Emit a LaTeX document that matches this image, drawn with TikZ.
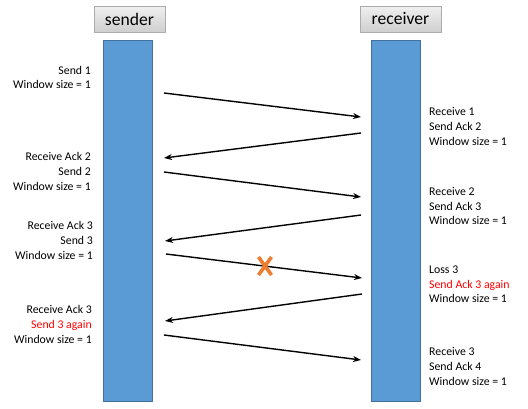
\documentclass[tikz,border=0pt]{standalone}
\usepackage{fontspec}
\setmainfont{Carlito}
\usepackage{tikz}
\usetikzlibrary{arrows.meta}
\definecolor{barblue}{HTML}{5B9BD5}
\definecolor{barline}{HTML}{41719C}
\definecolor{lossorange}{HTML}{ED7D31}
\tikzset{
  head/.style={draw=gray!65, top color=gray!12, bottom color=gray!38, minimum height=26pt, inner sep=0pt, font=\fontsize{17.6}{20}\selectfont},
  bar/.style={draw=barline, fill=barblue, minimum width=49pt, minimum height=361pt, inner sep=0pt},
  msg/.style={line width=1.4pt, -{Stealth[length=8pt,width=6pt]}},
  lbl/.style={inner sep=0pt, font=\fontsize{11.8}{14.6}\selectfont},
}
\begin{document}
\begin{tikzpicture}[x=1pt,y=-1pt]
  \useasboundingbox (0,0) rectangle (528,408);
  % nodes
	\node [head, minimum width=71pt] (s) at (129.5, 19) {sender};
	\node [head, minimum width=81pt] (r) at (400.5, 19) {receiver};
	\node [bar] (sb) at (127.5, 220.5) {};
	\node [bar] (rb) at (395.5, 220.5) {};
	%% sender side
	\node [lbl, align=right, anchor=east] (l1) at (91, 77.5) {Send 1\\Window size = 1};
	\node [lbl, align=right, anchor=east] (l2) at (91, 171.5) {Receive Ack 2\\Send 2\\Window size = 1};
	\node [lbl, align=right, anchor=east] (l3) at (93, 240.5) {Receive Ack 3\\Send 3\\Window size = 1};
	\node [lbl, align=right, anchor=east] (l4) at (92, 324.5) {Receive Ack 3\\\textcolor{red}{Send 3 again}\\Window size = 1};
	%% receiver side
	\node [lbl, align=left, anchor=west] (r1) at (429, 126.5) {Receive 1\\Send Ack 2\\Window size = 1};
	\node [lbl, align=left, anchor=west] (r2) at (429, 206) {Receive 2\\Send Ack 3\\Window size = 1};
	\node [lbl, align=left, anchor=west] (r3) at (429, 284.5) {Loss 3\\\textcolor{red}{Send Ack 3 again}\\Window size = 1};
	\node [lbl, align=left, anchor=west] (r4) at (429, 366.5) {Receive 3\\Send Ack 4\\Window size = 1};
	%% message ends
	\node (0) at (164, 93) {};
	\node (1) at (361, 117) {};
	\node (2) at (361, 133) {};
	\node (3) at (164, 158) {};
	\node (4) at (164, 172) {};
	\node (5) at (361, 197) {};
	\node (6) at (361, 215) {};
	\node (7) at (165, 241) {};
	\node (8) at (166, 254) {};
	\node (9) at (362, 278) {};
	\node (10) at (362, 294) {};
	\node (11) at (165, 321) {};
	\node (12) at (164, 335) {};
	\node (13) at (361, 360) {};
	\node (x) at (265, 266) {};
	% edges
	\draw [msg] (0.center) to (1.center);
	\draw [msg] (2.center) to (3.center);
	\draw [msg] (4.center) to (5.center);
	\draw [msg] (6.center) to (7.center);
	\draw [msg] (8.center) to (9.center);
	\draw [msg] (10.center) to (11.center);
	\draw [msg] (12.center) to (13.center);
	% loss mark
	\draw [lossorange, line width=3.6pt] ([shift={(-6.5,-9)}]x.center) -- ([shift={(6.5,9)}]x.center);
	\draw [lossorange, line width=3.6pt] ([shift={(6.5,-9)}]x.center) -- ([shift={(-6.5,9)}]x.center);
\end{tikzpicture}
\end{document}
